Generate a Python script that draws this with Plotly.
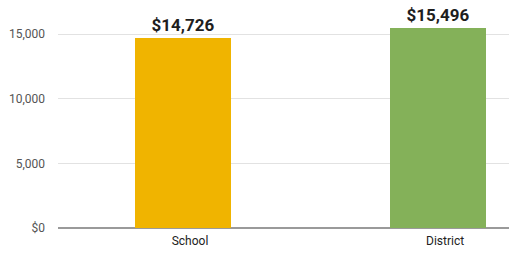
import plotly.graph_objects as go

categories = ["School", "District"]
values = [14726, 15496]
colors = ["#F0B400", "#84B159"]
tick_vals = [0, 5000, 10000, 15000]
tick_text = ["$0", "5,000", "10,000", "15,000"]

fig = go.Figure()
fig.add_trace(go.Bar(
    x=categories, y=values,
    marker=dict(color=colors, line=dict(width=0)),
    width=0.376,
    text=[f"${v:,}" for v in values],
    textposition="outside",
    textfont=dict(family="Roboto", size=17, color="#1e1e1e", weight="bold"),
    cliponaxis=False,
    hoverinfo="skip",
))
fig.update_layout(
    width=509, height=254,
    margin=dict(l=58, r=0, t=2, b=26),
    paper_bgcolor="white", plot_bgcolor="white",
    showlegend=False,
    bargap=0,
    font=dict(family="Roboto", size=12, color="#555555"),
)
fig.update_xaxes(
    range=[-0.49, 1.278],
    showgrid=False, showline=False, ticks="",
    tickfont=dict(family="Roboto", size=12, color="#222222"),
    ticklabelshift=7, ticklabelstandoff=4,
)
fig.update_yaxes(
    range=[0, 17500],
    tickvals=tick_vals, ticktext=tick_text,
    showgrid=True, gridcolor="#e2e2e2", gridwidth=1,
    zeroline=True, zerolinecolor="#9a9a9a", zerolinewidth=2,
    showline=False, ticks="",
    tickfont=dict(family="Roboto", size=12, color="#555555"),
    ticklabelstandoff=12,
)
fig.write_html("out.html", config={"displayModeBar": False},
               post_script="document.body.style.margin='0';document.body.style.overflow='hidden';")
